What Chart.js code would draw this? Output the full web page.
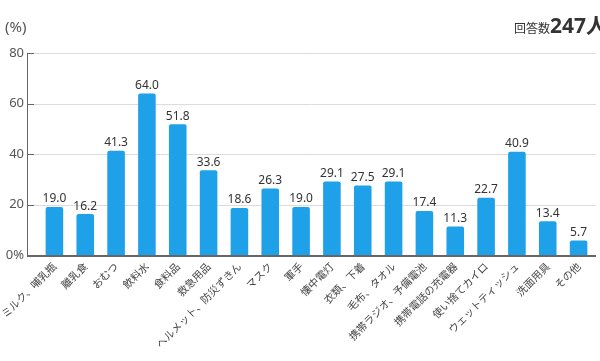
<!DOCTYPE html>
<html><head><meta charset="utf-8">
<script src="https://cdn.jsdelivr.net/npm/chart.js@4"></script>
<style>
html,body{margin:0;padding:0;background:#fff;overflow:hidden}
#wrap{position:relative;width:600px;height:361px}
#unit{position:absolute;left:5px;top:16px;font:15px "Noto Sans","Noto Sans CJK JP",sans-serif;color:#555}
#resp{position:absolute;left:514px;top:9px;white-space:nowrap;color:#333;font-family:"Noto Sans CJK JP",sans-serif}
#resp .s{font-size:12px}
#resp .b{font-size:21px;font-weight:bold;font-family:"Noto Sans","Noto Sans CJK JP",sans-serif}
</style></head>
<body><div id="wrap">
<canvas id="c" width="600" height="361"></canvas>
<div id="unit">(%)</div>
<div id="resp"><span class="s">回答数</span><span class="b">247人</span></div>
</div>
<script>
const categories = ['ミルク、哺乳瓶','離乳食','おむつ','飲料水','食料品','救急用品','ヘルメット、防災ずきん','マスク','軍手','懐中電灯','衣類、下着','毛布、タオル','携帯ラジオ、予備電池','携帯電話の充電器','使い捨てカイロ','ウェットティッシュ','洗面用具','その他'];
const values = [19.0,16.2,41.3,64.0,51.8,33.6,18.6,26.3,19.0,29.1,27.5,29.1,17.4,11.3,22.7,40.9,13.4,5.7];
const yTicks = [0,20,40,60,80];

const AXIS_X = 27;
const axisPlugin = {
  id:'axisPlugin',
  beforeDatasetsDraw(chart){
    const ctx = chart.ctx, y = chart.scales.y, a = chart.chartArea;
    ctx.save();
    yTicks.forEach(t=>{
      if(t===0) return;
      const py = Math.round(y.getPixelForValue(t))+0.5;
      ctx.strokeStyle='#dcdcdc'; ctx.lineWidth=1;
      ctx.beginPath(); ctx.moveTo(AXIS_X,py); ctx.lineTo(a.right+2,py); ctx.stroke();
      ctx.strokeStyle='#666';
      ctx.beginPath(); ctx.moveTo(AXIS_X,py); ctx.lineTo(AXIS_X+7,py); ctx.stroke();
    });
    const y0 = Math.round(y.getPixelForValue(0));
    ctx.strokeStyle='#666'; ctx.lineWidth=1;
    ctx.beginPath(); ctx.moveTo(AXIS_X+0.5, Math.round(y.getPixelForValue(80))); ctx.lineTo(AXIS_X+0.5,y0+1); ctx.stroke();
    ctx.restore();
  },
  afterDatasetsDraw(chart){
    const ctx = chart.ctx, y = chart.scales.y, a = chart.chartArea;
    const y0 = Math.round(y.getPixelForValue(0));
    ctx.save();
    ctx.strokeStyle='#666'; ctx.lineWidth=2;
    ctx.beginPath(); ctx.moveTo(AXIS_X,y0+1); ctx.lineTo(a.right+2,y0+1); ctx.stroke();
    const meta = chart.getDatasetMeta(0);
    ctx.fillStyle='#333';
    ctx.font='12px "Noto Sans", sans-serif';
    ctx.textAlign='center'; ctx.textBaseline='bottom';
    meta.data.forEach((bar,i)=>{
      ctx.fillText(values[i].toFixed(1), bar.x, bar.y-2);
    });
    ctx.restore();
  }
};

new Chart(document.getElementById('c'),{
  type:'bar',
  data:{labels:categories,datasets:[{data:values,backgroundColor:'#1fa1ea',borderRadius:{topLeft:2,topRight:2},borderSkipped:'bottom',barPercentage:0.57,categoryPercentage:1}]},
  options:{
    responsive:false,animation:false,
    layout:{padding:{top:53,right:6,left:0,bottom:0}},
    plugins:{legend:{display:false},tooltip:{enabled:false}},
    scales:{
      x:{
        grid:{display:false,drawTicks:false},border:{display:false},
        ticks:{minRotation:45,maxRotation:45,autoSkip:false,padding:5,color:'#444',font:{family:'"Noto Sans CJK JP", sans-serif',size:10.5}},
        afterFit(s){s.height=106;s.paddingLeft=0;s.paddingRight=0;}
      },
      y:{
        min:0,max:80,
        grid:{display:false,drawTicks:false},border:{display:false},
        ticks:{stepSize:20,padding:15,color:'#555',font:{family:'"Noto Sans", sans-serif',size:13},callback:v=>v===0?'0%':v},
        afterFit(s){s.width=39;}
      }
    }
  },
  plugins:[axisPlugin]
});
</script>
</body></html>
